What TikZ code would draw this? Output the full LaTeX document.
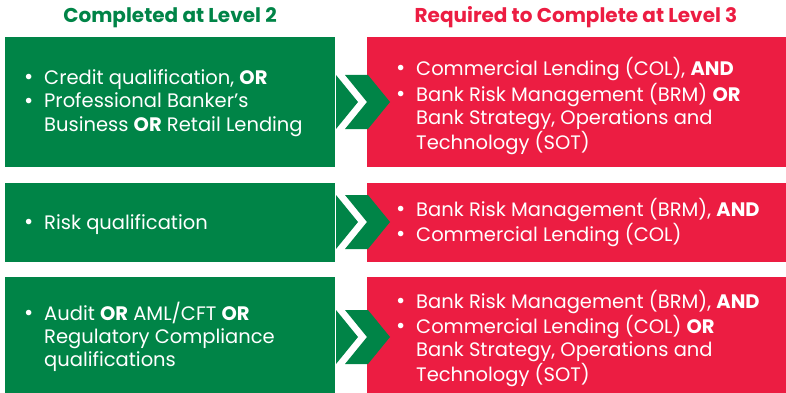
\documentclass[tikz,border=0pt]{standalone}
\usepackage{fontspec}
\setmainfont{Poppins}
\definecolor{igreen}{RGB}{0,132,71}
\definecolor{ired}{RGB}{236,29,66}
\tikzset{
  gbox/.style={fill=igreen, draw=none},
  rbox/.style={fill=ired, draw=none},
  chev/.style={fill=igreen, draw=none},
  btxt/.style={text=white, inner sep=0pt, anchor=base west, font=\fontsize{19.5}{23}\selectfont},
  head/.style={inner sep=0pt, anchor=base, font=\fontsize{20}{22}\selectfont\bfseries},
}
\newcommand\blist[1]{\begin{tabular}[t]{@{}p{21pt}@{}l@{}}#1\end{tabular}}
\newcommand\bul{\hspace{1pt}\scalebox{1.15}{•}}
\begin{document}
\begin{tikzpicture}[x=1pt,y=-1pt]
\useasboundingbox (0,0) rectangle (786,393);
% headers
\node[head, text=igreen] (h1) at (170,23) {Completed at Level 2};
\node[head, text=ired] (h2) at (576,23) {Required to Complete at Level 3};
% boxes
\path[gbox] (5,37) rectangle (335,167);
\path[gbox] (5,183) rectangle (335,262);
\path[gbox] (5,277) rectangle (335,393);
\path[rbox] (367,37) rectangle (786,167);
\path[rbox] (367,183) rectangle (786,262);
\path[rbox] (367,277) rectangle (786,393);
% chevrons
\foreach \c in {102,222,337}{
  \path[chev] (336,\c-27) -- (358,\c) -- (336,\c+27) -- cycle;
  \path[chev] (345,\c-27) -- (368,\c-27) -- (390,\c) -- (368,\c+27) -- (345,\c+27) -- (367,\c) -- cycle;
}
% texts
\node[btxt] (t1) at (23,85) {\blist{\bul&Credit qualification, \textbf{OR}\\ \bul&Professional Banker’s\\ &Business \textbf{OR} Retail Lending}};
\node[btxt] (t2) at (23,229) {\blist{\bul&Risk qualification}};
\node[btxt] (t3) at (23,320) {\blist{\bul&Audit \textbf{OR} AML/CFT \textbf{OR}\\ &Regulatory Compliance\\ &qualifications}};
\node[btxt] (s1) at (395,76) {\blist{\bul&Commercial Lending (COL), \textbf{AND}\\ \bul&Bank Risk Management (BRM) \textbf{OR}\\ &Bank Strategy, Operations and\\ &Technology (SOT)}};
\node[btxt] (s2) at (395,216) {\blist{\bul&Bank Risk Management (BRM), \textbf{AND}\\ \bul&Commercial Lending (COL)}};
\node[btxt] (s3) at (395,308) {\blist{\bul&Bank Risk Management (BRM), \textbf{AND}\\ \bul&Commercial Lending (COL) \textbf{OR}\\ &Bank Strategy, Operations and\\ &Technology (SOT)}};
\end{tikzpicture}
\end{document}
